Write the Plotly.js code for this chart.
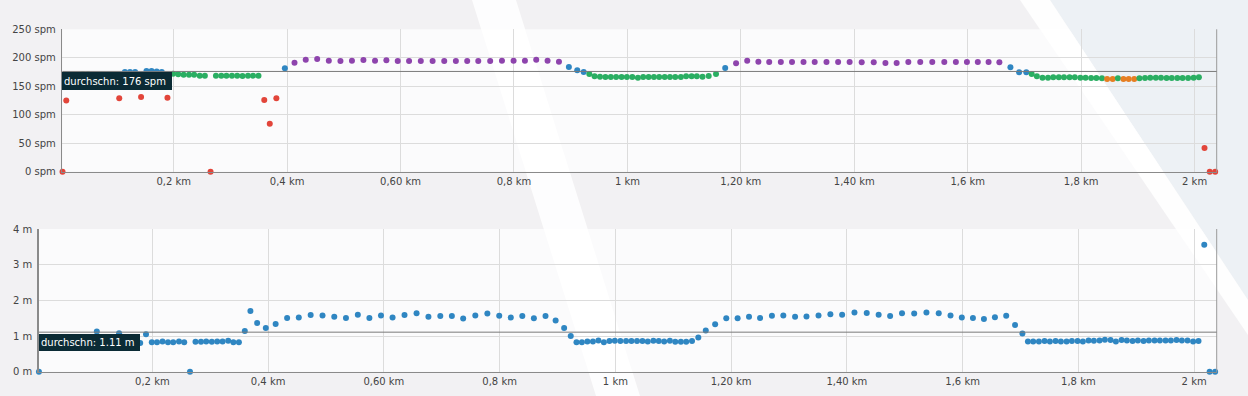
<!DOCTYPE html>
<html>
<head>
<meta charset="utf-8">
<script src="https://cdn.plot.ly/plotly-3.0.1.min.js"></script>
<style>
html,body{margin:0;padding:0;background:#f2f1f3;}
#chart{width:1248px;height:396px;}
</style>
</head>
<body>
<div id="chart"></div>
<script>
// distance in km (shared by both charts)
const distance = [0.004,0.0106,0.020,0.030,0.040,0.049,0.059,0.068,0.077,0.086,0.095,
0.104,0.114,0.123,0.132,0.1425,0.152,0.161,0.170,0.179,0.189,0.199,0.208,0.2175,0.227,0.236,0.246,0.255,0.265,
0.2745,0.284,0.293,0.3027,0.312,0.3213,0.331,0.340,0.3495,0.3597,0.3694,0.381,0.396,0.413,0.4328,0.453,0.4735,
0.494,0.5143,0.5345,0.555,0.575,0.595,0.615,0.6357,0.6565,0.677,0.6975,0.7175,0.737,0.758,0.7788,0.7993,0.8193,
0.8392,0.8592,0.8793,0.8968,0.9115,0.9229,0.9328,0.9421,0.9516,0.9612,0.9707,0.9801,0.9897,0.999,1.0086,1.0185,
1.0278,1.0374,1.0468,1.056,1.0657,1.075,1.0843,1.0942,1.1035,1.1132,1.1224,1.1324,1.1433,1.1562,1.1724,1.1916,
1.2112,1.2309,1.25,1.2705,1.2902,1.3105,1.3302,1.351,1.3715,1.3918,1.4131,1.4343,1.4549,1.4747,1.4953,1.5163,
1.5375,1.5587,1.5791,1.5986,1.6178,1.6368,1.6558,1.6753,1.6906,1.7033,
1.7128,1.7219,1.7318,1.7416,1.7508,1.7606,1.7698,1.7796,1.7888,1.7986,1.8078,1.8176,1.8268,1.8366,1.8458,1.8556,
1.8648,1.8746,1.8838,1.8936,1.9028,1.9126,1.9218,1.9316,1.9408,1.9506,1.9598,1.9696,1.9788,1.9886,1.9983,2.0076,
2.0175,2.0268,2.0363];

// cadence (spm)
const cadence = [0,125,166,167,171,171,168,167,167,166,166,
129,175,175,175,131,177,177,176,175,130,172,171,170.4,170.4,170.4,168.6,168.6,0,
168.6,168.6,168.6,168.6,168.6,168,168.6,168.6,168.6,126,84,129,181.5,191.4,196.7,197.9,195,
194.4,195,196.1,195,195.6,194.4,194.4,194.4,194.4,194.4,194.4,194.4,194.4,194.4,195,195,195,
196.7,195,193.2,183.8,178,175,171.5,167.4,166.9,166.3,166.3,166.3,166.3,166.3,166.3,165.1,
166.3,166.3,166.3,166.3,166.3,166.3,166.3,166.3,167.4,167.4,167.4,166.9,168,171.5,182,190.3,
195,193.2,192.6,192.6,192.6,192.6,192.6,192.6,192.6,192.6,192,192,190.9,190.9,192.6,192.6,
192.6,192.6,192.6,192.6,192.6,192.6,192,183.3,174.5,174.5,
171.5,167.5,165,165,165.7,165.7,165.7,165.7,165.7,165,165,164.5,164.5,164.2,162.7,162.7,
164.2,162.7,162.7,162.7,164.2,164.5,165,165,165,164.5,164.5,164.5,164.5,164.5,165,165.7,
41.6,0,0];

// stride length (m)
const stride = [0,0.80,0.80,0.81,0.82,0.82,0.82,0.81,0.80,0.80,0.80,
1.13,0.80,0.80,0.80,1.08,0.80,0.80,0.80,0.81,1.05,0.83,0.83,0.85,0.83,0.83,0.85,0.83,0,
0.84,0.84,0.85,0.84,0.85,0.85,0.87,0.83,0.83,1.14,1.70,1.37,1.23,1.34,1.51,1.52,1.59,
1.58,1.54,1.51,1.60,1.51,1.58,1.52,1.59,1.64,1.54,1.56,1.56,1.49,1.58,1.63,1.57,1.52,
1.56,1.50,1.56,1.44,1.23,1.00,0.83,0.83,0.85,0.85,0.88,0.83,0.86,0.87,0.86,0.86,
0.86,0.86,0.86,0.85,0.87,0.86,0.85,0.87,0.84,0.84,0.84,0.86,0.96,1.16,1.33,1.50,
1.50,1.54,1.51,1.57,1.58,1.54,1.55,1.58,1.61,1.60,1.66,1.65,1.60,1.56,1.64,1.63,
1.66,1.64,1.58,1.52,1.51,1.48,1.53,1.57,1.31,1.07,
0.85,0.85,0.85,0.86,0.85,0.86,0.85,0.85,0.86,0.86,0.85,0.88,0.87,0.88,0.90,0.89,
0.85,0.89,0.88,0.86,0.88,0.86,0.88,0.88,0.88,0.88,0.88,0.89,0.88,0.88,0.85,0.86,
3.56,0,0];

const avgCadence = 176;
const avgStride = 1.11;
const avgCadenceLabel = "durchschn: 176 spm";
const avgStrideLabel = "durchschn: 1.11 m";

const xTickVals = [0.2,0.4,0.6,0.8,1,1.2,1.4,1.6,1.8,2];
const xTickText = ["0,2 km","0,4 km","0,60 km","0,8 km","1 km","1,20 km","1,40 km","1,6 km","1,8 km","2 km"];
const cadTickVals = [0,50,100,150,200,250];
const cadTickText = ["0 spm","50 spm","100 spm","150 spm","200 spm","250 spm"];
const strideTickVals = [0,1,2,3,4];
const strideTickText = ["0 m","1 m","2 m","3 m","4 m"];

// cadence zone colours
function zoneColor(v){
  if (v < 153) return '#e2453a';
  if (v < 164) return '#e67e22';
  if (v < 174) return '#2aae62';
  if (v < 184) return '#2f86c2';
  return '#8e44ad';
}

const W = 1248, H = 396;
const px = x => x / W;
const py = y => 1 - y / H;

const font = {family: 'DejaVu Sans, Verdana, sans-serif', size: 10, color: '#444'};

const traces = [
  {x: distance, y: cadence, type: 'scatter', mode: 'markers', xaxis: 'x', yaxis: 'y',
   cliponaxis: false, hoverinfo: 'skip',
   marker: {size: 6, color: cadence.map(zoneColor)}},
  {x: distance, y: stride, type: 'scatter', mode: 'markers', xaxis: 'x2', yaxis: 'y2',
   cliponaxis: false, hoverinfo: 'skip',
   marker: {size: 6, color: '#2f86c2'}}
];

const xRange = [0.0036, 2.039];
const axisCommon = {
  showgrid: true, gridcolor: '#dcdcdc', gridwidth: 1,
  zeroline: false, showline: true, linecolor: '#8a8a8a', linewidth: 1.5,
  ticks: '', tickfont: font, fixedrange: true
};

const layout = {
  width: W, height: H,
  margin: {l: 0, r: 0, t: 0, b: 0},
  paper_bgcolor: '#f2f1f3',
  plot_bgcolor: 'rgba(255,255,255,0.7)',
  showlegend: false,
  font: font,
  xaxis: Object.assign({}, axisCommon, {domain: [px(62.3), px(1216.7)], range: xRange, anchor: 'y',
    tickmode: 'array', tickvals: xTickVals, ticktext: xTickText}),
  yaxis: Object.assign({}, axisCommon, {domain: [py(171.7), py(29.3)], range: [0, 250], anchor: 'x',
    tickmode: 'array', tickvals: cadTickVals, ticktext: cadTickText, ticklabelstandoff: 3}),
  xaxis2: Object.assign({}, axisCommon, {domain: [px(38.7), px(1216.7)], range: xRange, anchor: 'y2',
    tickmode: 'array', tickvals: xTickVals, ticktext: xTickText}),
  yaxis2: Object.assign({}, axisCommon, {domain: [py(371.8), py(229)], range: [0, 4], anchor: 'x2',
    tickmode: 'array', tickvals: strideTickVals, ticktext: strideTickText, ticklabelstandoff: 3}),
  shapes: [
    // decorative background stripes
    {type: 'path', xref: 'paper', yref: 'paper', layer: 'below', line: {width: 0},
     fillcolor: 'rgba(255,255,255,0.85)',
     path: `M ${px(472)} ${py(0)} L ${px(516)} ${py(0)} L ${px(640)} ${py(396)} L ${px(596)} ${py(396)} Z`},
    {type: 'path', xref: 'paper', yref: 'paper', layer: 'below', line: {width: 0},
     fillcolor: '#edf1f5',
     path: `M ${px(1050)} ${py(0)} L ${px(1248)} ${py(0)} L ${px(1248)} ${py(300)} Z`},
    {type: 'path', xref: 'paper', yref: 'paper', layer: 'below', line: {width: 0},
     fillcolor: 'rgba(255,255,255,0.9)',
     path: `M ${px(1020)} ${py(0)} L ${px(1050)} ${py(0)} L ${px(1248)} ${py(300)} L ${px(1248)} ${py(335)} Z`},
    // right borders
    {type: 'line', xref: 'x domain', yref: 'y domain', x0: 1, x1: 1, y0: 0, y1: 1,
     line: {color: '#9a9a9a', width: 1}},
    {type: 'line', xref: 'x2 domain', yref: 'y2 domain', x0: 1, x1: 1, y0: 0, y1: 1,
     line: {color: '#9a9a9a', width: 1}},
    // average lines
    {type: 'line', xref: 'x domain', yref: 'y', x0: 0, x1: 1, y0: avgCadence, y1: avgCadence,
     line: {color: '#7a7a7a', width: 1}},
    {type: 'line', xref: 'x2 domain', yref: 'y2', x0: 0, x1: 1, y0: avgStride, y1: avgStride,
     line: {color: '#7a7a7a', width: 1}}
  ],
  annotations: [
    {xref: 'paper', yref: 'paper', x: px(62.3), y: py(72.3), xanchor: 'left', yanchor: 'top',
     text: avgCadenceLabel, showarrow: false, align: 'left',
     bgcolor: '#0b2b35', borderpad: 2, borderwidth: 0, width: 106, height: 14,
     font: {family: 'DejaVu Sans, Verdana, sans-serif', size: 10, color: '#ffffff'}},
    {xref: 'paper', yref: 'paper', x: px(38.7), y: py(334.3), xanchor: 'left', yanchor: 'top',
     text: avgStrideLabel, showarrow: false, align: 'left',
     bgcolor: '#0b2b35', borderpad: 2, borderwidth: 0, width: 97, height: 13,
     font: {family: 'DejaVu Sans, Verdana, sans-serif', size: 10, color: '#ffffff'}}
  ]
};

Plotly.newPlot('chart', traces, layout, {staticPlot: true, displayModeBar: false});
</script>
</body>
</html>
